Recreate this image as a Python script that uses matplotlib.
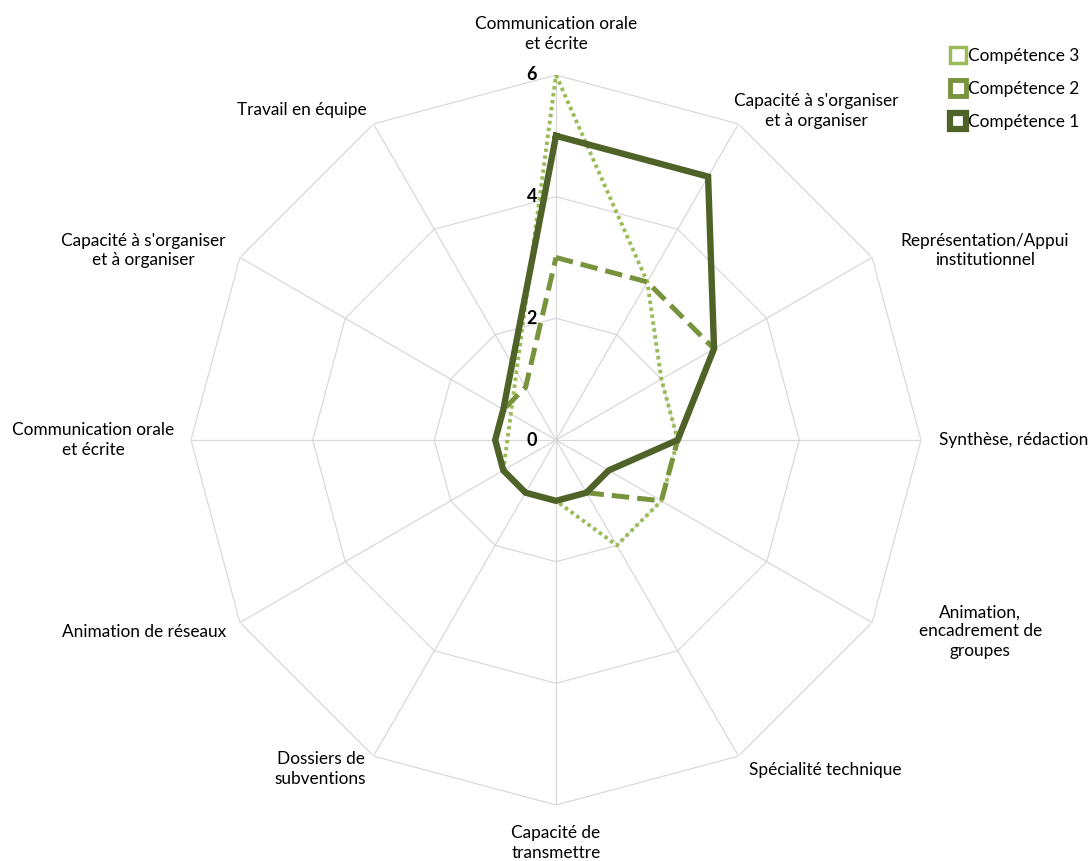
import numpy as np
import matplotlib
matplotlib.use("Agg")
import matplotlib.pyplot as plt
from matplotlib.lines import Line2D

categories = [
    "Communication orale\net écrite",
    "Capacité à s'organiser\net à organiser",
    "Représentation/Appui\ninstitutionnel",
    "Synthèse, rédaction",
    "Animation,\nencadrement de\ngroupes",
    "Spécialité technique",
    "Capacité de\ntransmettre",
    "Dossiers de\nsubventions",
    "Animation de réseaux",
    "Communication orale\net écrite",
    "Capacité à s'organiser\net à organiser",
    "Travail en équipe",
]
series_names = ["Compétence 1", "Compétence 2", "Compétence 3"]
comp1 = [5, 5, 3, 2, 1, 1, 1, 1, 1, 1, 1, np.nan]
comp2 = [3, 3, 3, 2, 2, 1, 1, 1, 1, 1, 1, 1]
comp3 = [6, 3, 2, 2, 2, 2, 1, 1, 1, np.nan, np.nan, np.nan]
radial_ticks = [0, 2, 4, 6]

plt.rcParams['font.family'] = ['Lato', 'DejaVu Sans']

fig = plt.figure(figsize=(10.91, 8.61), dpi=100)
W, H = 1091, 861
cx, cy, R = 556, 440, 365
ax = fig.add_axes([(cx - R) / W, (H - cy - R) / H, 2 * R / W, 2 * R / H], projection='polar')
ax.set_theta_zero_location('N')
ax.set_theta_direction(-1)
ax.set_ylim(0, 6)
ax.grid(False)
ax.spines['polar'].set_visible(False)
ax.set_xticks([])
ax.set_yticks([])
ax.patch.set_alpha(0)

n = len(categories)
theta = np.arange(n) * 2 * np.pi / n

grid_color = '#d9d9d9'
for lvl in radial_ticks[1:]:
    t = np.append(theta, theta[0])
    ax.plot(t, [lvl] * (n + 1), color=grid_color, lw=0.9, zorder=1)
for th in theta:
    ax.plot([th, th], [0, 6], color=grid_color, lw=0.9, zorder=1)

def closed(vals):
    v = np.array(vals, dtype=float)
    m = ~np.isnan(v)
    t = theta[m]
    r = v[m]
    return np.append(t, t[0]), np.append(r, r[0])

c1, c2, c3 = '#4f6228', '#77933c', '#9bbb59'
t, r = closed(comp3)
ax.plot(t, r, color=c3, lw=2.8, linestyle=(0, (0.9, 0.9)), zorder=3, dash_capstyle='butt')
t, r = closed(comp2)
ax.plot(t, r, color=c2, lw=3.6, linestyle=(0, (3.5, 1.6)), zorder=4, dash_capstyle='butt')
t, r = closed(comp1)
ax.plot(t, r, color=c1, lw=4.6, zorder=5, solid_joinstyle='miter')

for v in radial_ticks:
    ax.annotate(str(v), xy=(0, v), xytext=(-19, 0), textcoords='offset pixels',
                ha='right', va='center', fontsize=13, fontweight='bold', color='#000000', zorder=6)

offsets = [(0, 41), (78, 13), (113, 7), (93, 0), (108, -9), (87, -14),
           (0, -38), (-53, -13), (-96, -9), (-98, 0), (-97, 7), (-72, 14)]
for th, lab, (dx, dy) in zip(theta, categories, offsets):
    ax.annotate(lab, xy=(th, 6), xytext=(dx, dy), textcoords='offset pixels',
                ha='center', va='center', fontsize=12.4, color='#000000',
                linespacing=1.25, annotation_clip=False)

handles = [
    Line2D([], [], lw=0, marker='s', markersize=11, markerfacecolor='none',
           markeredgecolor=c3, markeredgewidth=2.5, linestyle='none'),
    Line2D([], [], color=c2, lw=0, marker='s', markersize=11,
           markerfacecolor='white', markeredgecolor=c2, markeredgewidth=3.5),
    Line2D([], [], color=c1, lw=0, marker='s', markersize=11,
           markerfacecolor='white', markeredgecolor=c1, markeredgewidth=4.5),
]
leg = fig.legend(handles, ["Compétence 3", "Compétence 2", "Compétence 1"],
                 loc='upper left', bbox_to_anchor=(942 / W, 1 - 39 / H), frameon=False,
                 fontsize=12.4, handlelength=0.8, handletextpad=0.2, labelspacing=1.0,
                 borderpad=0)

fig.savefig('out.png', dpi=100)
